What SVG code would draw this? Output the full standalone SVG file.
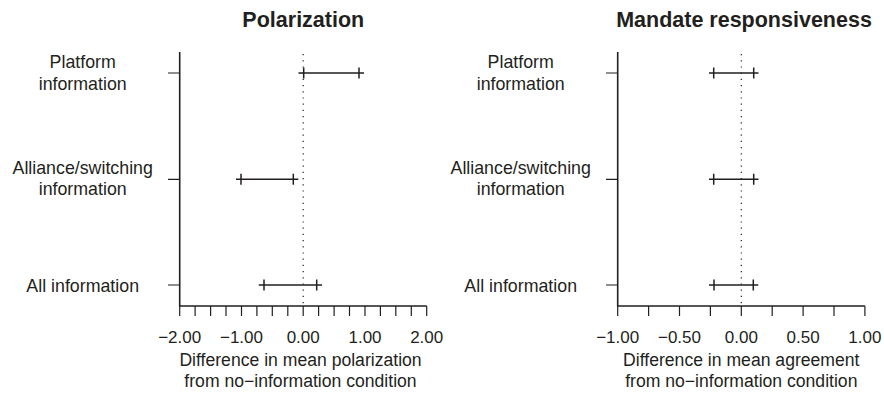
<svg xmlns="http://www.w3.org/2000/svg" width="884" height="394" viewBox="0 0 884 394">
<style>
.t{font-family:"Liberation Sans",Arial,sans-serif;font-size:21.5px;font-weight:bold;fill:#231f20;text-anchor:middle}
.l{font-family:"Liberation Sans",Arial,sans-serif;font-size:17px;fill:#231f20;text-anchor:middle}
.c{font-size:17.8px}
.a{font-size:17.6px}
.ax{stroke:#231f20;stroke-width:1.6;fill:none}
.tk{stroke:#231f20;stroke-width:1.2;fill:none}
.bar{stroke:#231f20;stroke-width:1.5;fill:none}
.dot{stroke:#231f20;stroke-width:1.2;stroke-dasharray:1.2 5;fill:none}
</style>
<rect width="884" height="394" fill="#ffffff"/>
<g id="panel-polarization">
<text class="t" x="303.3" y="27">Polarization</text>
<path class="ax" d="M179.7,52 V306 H426.7"/>
<path class="tk" d="M168,73 H179.7 M168,179.3 H179.7 M168,285 H179.7"/>
<path class="tk" d="M179.7,306V316 M195.1,306V316 M210.6,306V316 M226,306V316 M241.5,306V316 M256.9,306V316 M272.3,306V316 M287.8,306V316 M303.2,306V316 M318.6,306V316 M334.1,306V316 M349.5,306V316 M365,306V316 M380.4,306V316 M395.8,306V316 M411.3,306V316 M426.7,306V316"/>
<path class="dot" d="M303.2,54 V306"/>
<g id="pol-platform"><path class="bar" d="M298.5,73 H364 M303.7,67.5 V78.5 M359,67.5 V78.5"/></g>
<g id="pol-alliance"><path class="bar" d="M236,179.3 H298.3 M241,173.8 V184.8 M293.3,173.8 V184.8"/></g>
<g id="pol-all"><path class="bar" d="M258.8,285 H322 M264,279.5 V290.5 M316.7,279.5 V290.5"/></g>
<text class="l c" x="82.7" y="68">Platform</text>
<text class="l c" x="82.7" y="90">information</text>
<text class="l c" x="82.7" y="173.5">Alliance/switching</text>
<text class="l c" x="82.7" y="195">information</text>
<text class="l c" x="82.7" y="291.5">All information</text>
<text class="l" x="179.7" y="343">−2.00</text>
<text class="l" x="241.5" y="343">−1.00</text>
<text class="l" x="303.2" y="343">0.00</text>
<text class="l" x="365" y="343">1.00</text>
<text class="l" x="426.7" y="343">2.00</text>
<text class="l a" x="300.5" y="365.5">Difference in mean polarization</text>
<text class="l a" x="300.5" y="387">from no−information condition</text>
</g>
<g id="panel-mandate">
<text class="t" x="744" y="27">Mandate responsiveness</text>
<path class="ax" d="M617.7,52 V306 H864.9"/>
<path class="tk" d="M606,73 H617.7 M606,179.3 H617.7 M606,285 H617.7"/>
<path class="tk" d="M617.7,306V316 M648.6,306V316 M679.5,306V316 M710.4,306V316 M741.3,306V316 M772.2,306V316 M803.1,306V316 M834,306V316 M864.9,306V316"/>
<path class="dot" d="M741.3,54 V306"/>
<g id="man-platform"><path class="bar" d="M709,73 H758.5 M713.7,67.5 V78.5 M753.7,67.5 V78.5"/></g>
<g id="man-alliance"><path class="bar" d="M709,179.3 H758.5 M713.7,173.8 V184.8 M753.7,173.8 V184.8"/></g>
<g id="man-all"><path class="bar" d="M709,285 H758.3 M714,279.5 V290.5 M753.3,279.5 V290.5"/></g>
<text class="l c" x="520.7" y="68">Platform</text>
<text class="l c" x="520.7" y="90">information</text>
<text class="l c" x="520.7" y="173.5">Alliance/switching</text>
<text class="l c" x="520.7" y="195">information</text>
<text class="l c" x="520.7" y="291.5">All information</text>
<text class="l" x="617.7" y="343">−1.00</text>
<text class="l" x="679.5" y="343">−0.50</text>
<text class="l" x="741.3" y="343">0.00</text>
<text class="l" x="803.1" y="343">0.50</text>
<text class="l" x="864.9" y="343">1.00</text>
<text class="l a" x="741.3" y="365.5">Difference in mean agreement</text>
<text class="l a" x="741.3" y="387">from no−information condition</text>
</g>
</svg>
